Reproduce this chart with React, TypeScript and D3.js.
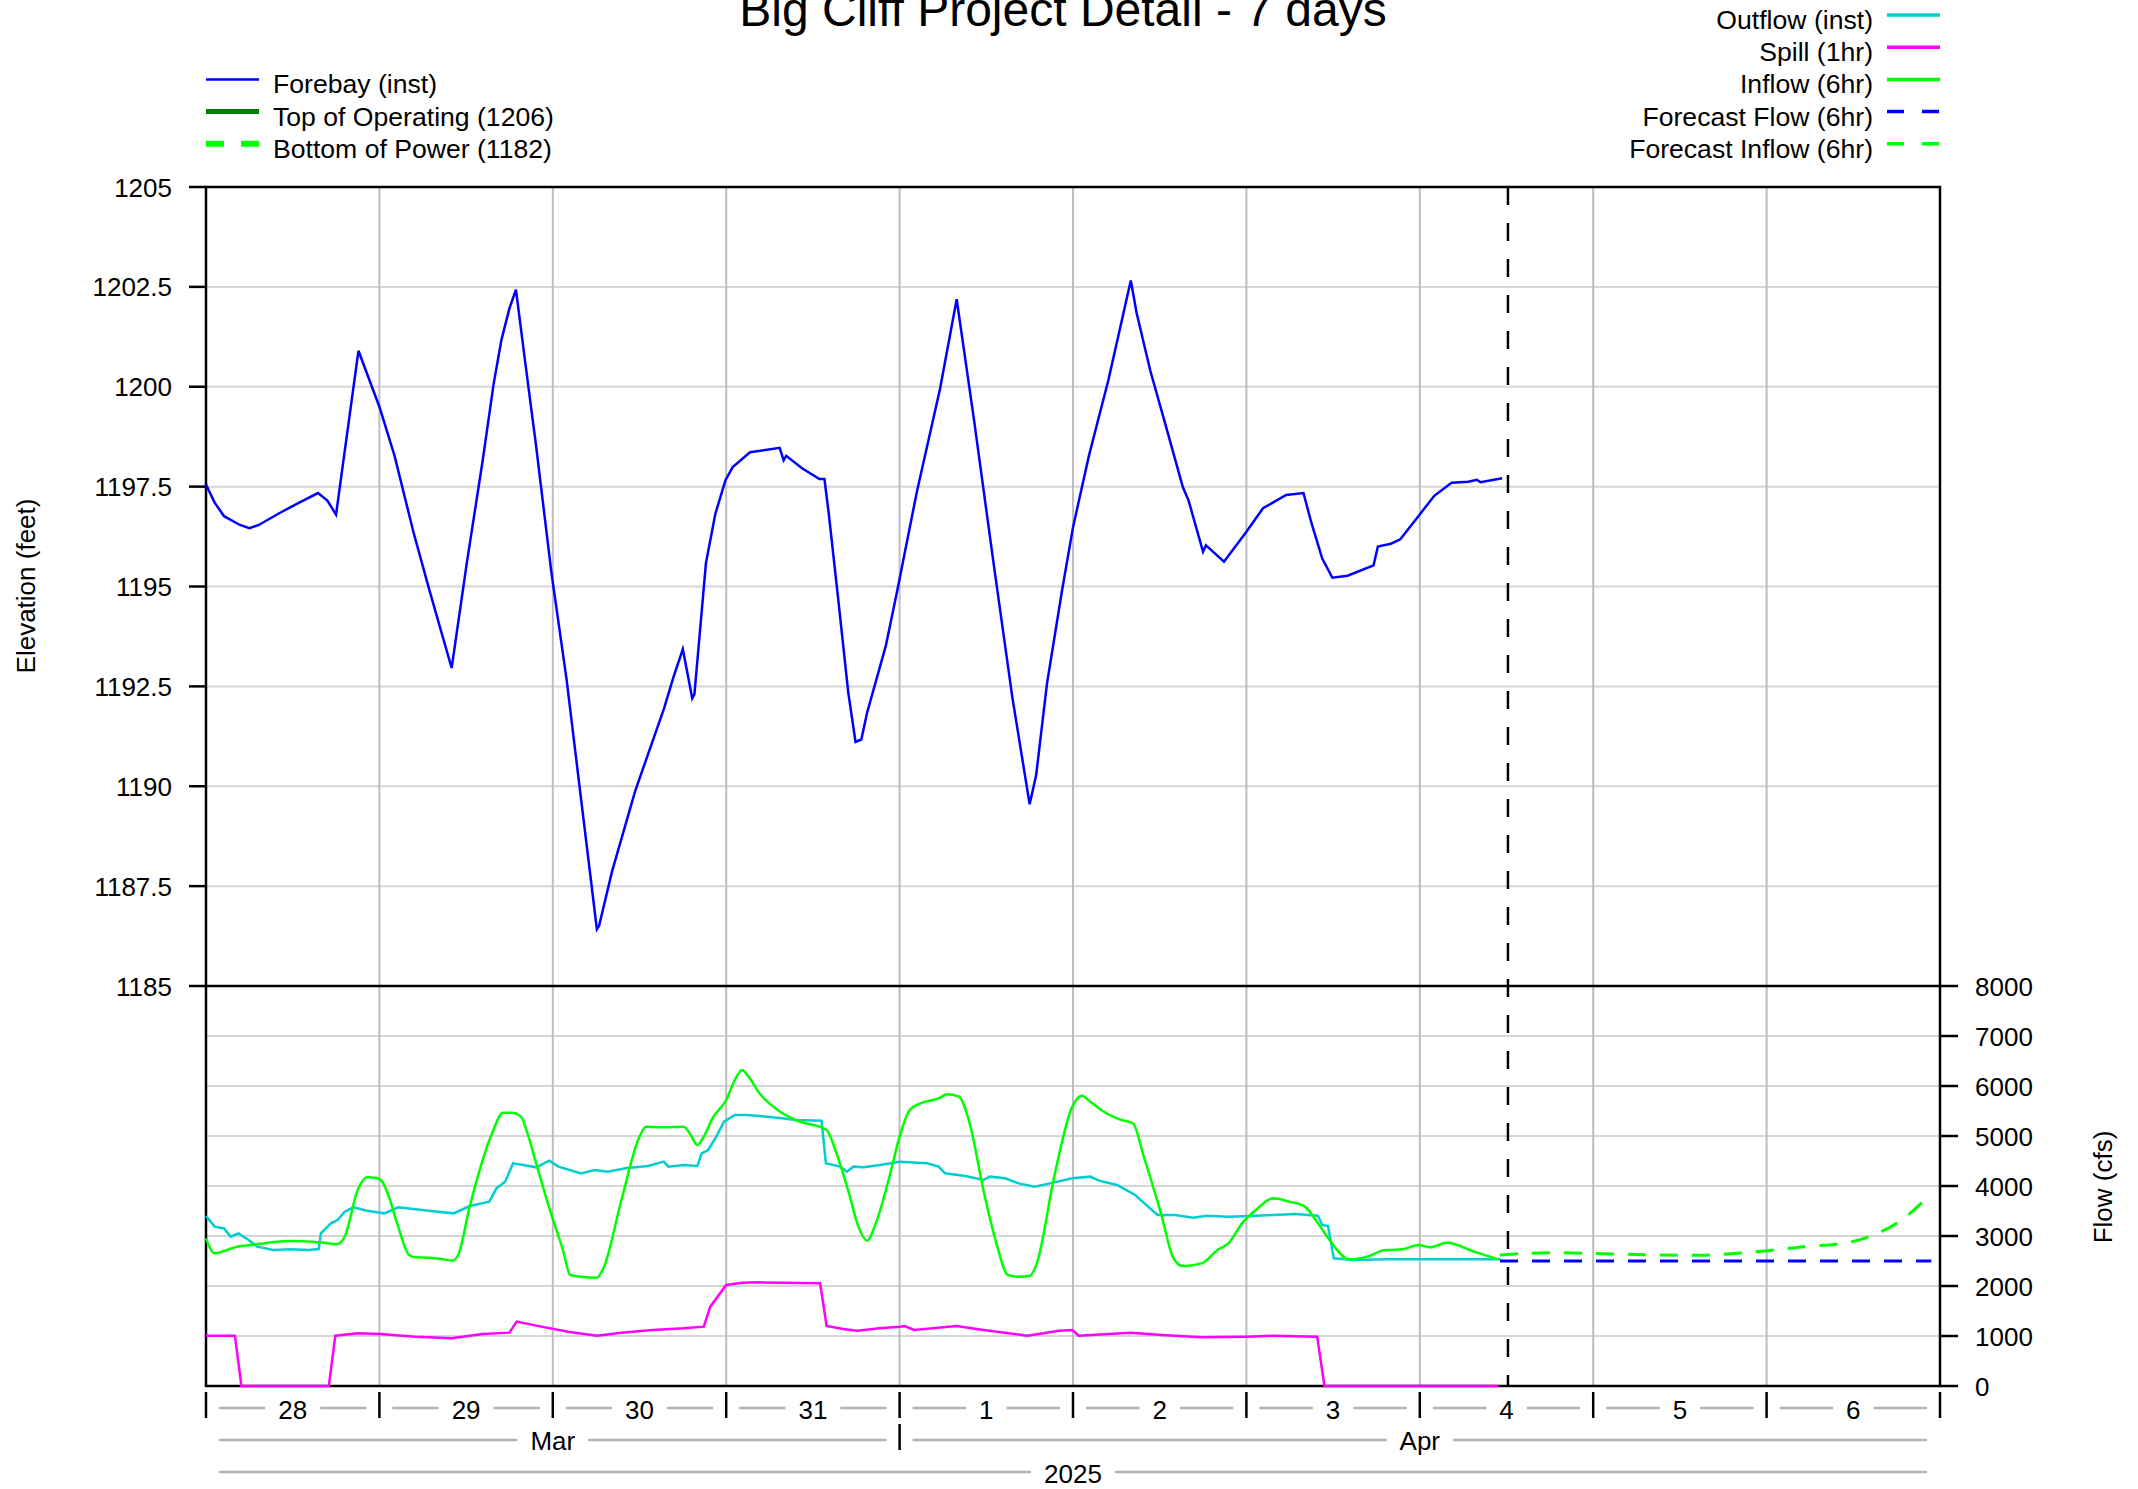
import React from 'react';
import * as d3 from 'd3';

// ---------- DATA (hours since 2025-03-28 00:00) ----------
const forebayHours = [0, 1.2, 2.5, 4.7, 6, 7.3, 10.2, 12.9, 15.5, 16.8, 18, 21.1, 24, 26.1, 28.7, 30.9, 34.0, 36.1, 38.3, 39.8, 40.9, 42, 42.9, 44.1, 45.7, 47.8, 49.9, 52, 54.1, 54.4, 56.2, 59.4, 63.4, 64.7, 66, 67.3, 67.6, 69.2, 70.5, 71.9, 72.9, 75.3, 79.4, 79.95, 80.3, 82.5, 84.9, 85.6, 86.2, 87.5, 88.9, 89.9, 90.7, 91.5, 94.1, 95.7, 98.4, 101.6, 103.9, 106.3, 109, 111.6, 114, 114.9, 116.4, 118.5, 120, 122.2, 124.9, 128, 128.8, 130.7, 132.8, 135.2, 136, 138, 138.4, 140.9, 144, 146.3, 149.5, 151.9, 153, 154.5, 155.9, 158, 161.6, 162.2, 164, 165.3, 167.8, 170, 172.4, 174.7, 175.9, 176.4, 179.4];
const forebayElev = [1197.55, 1197.1, 1196.76, 1196.54, 1196.46, 1196.54, 1196.84, 1197.1, 1197.34, 1197.15, 1196.8, 1200.9, 1199.5, 1198.27, 1196.37, 1194.92, 1192.96, 1195.59, 1198.16, 1200.06, 1201.18, 1201.96, 1202.43, 1200.73, 1198.5, 1195.36, 1192.68, 1189.55, 1186.42, 1186.5, 1187.87, 1189.88, 1191.95, 1192.73, 1193.43, 1192.2, 1192.3, 1195.59, 1196.82, 1197.66, 1197.99, 1198.36, 1198.47, 1198.16, 1198.27, 1197.96, 1197.69, 1197.69, 1196.82, 1194.69, 1192.34, 1191.11, 1191.17, 1191.84, 1193.52, 1194.92, 1197.38, 1199.95, 1202.19, 1199.17, 1195.59, 1192.23, 1189.55, 1190.28, 1192.57, 1194.92, 1196.48, 1198.27, 1200.17, 1202.66, 1201.85, 1200.4, 1199.05, 1197.49, 1197.15, 1195.87, 1196.03, 1195.62, 1196.37, 1196.96, 1197.29, 1197.34, 1196.59, 1195.7, 1195.22, 1195.27, 1195.53, 1196.0, 1196.07, 1196.18, 1196.76, 1197.27, 1197.6, 1197.62, 1197.67, 1197.61, 1197.71];

const inflowHours = [0, 1.2, 2.5, 4.3, 6.2, 8.7, 11.7, 14.8, 18.2, 19.2, 21, 22.3, 23.5, 24.4, 25.3, 26.6, 28.1, 29, 30.9, 32.8, 34.1, 34.9, 36.5, 39.6, 41.1, 42.3, 43.6, 44.5, 45.7, 47.6, 49.4, 50.4, 51.9, 54.1, 55, 57.5, 60, 60.9, 63, 66.1, 67.1, 68, 68.9, 70.1, 72, 73.2, 74.2, 75.1, 76.6, 79.1, 81.6, 85.9, 87.1, 89, 90.3, 91.5, 92.7, 94.6, 96, 97.4, 98.9, 101.4, 102.6, 104.2, 105.7, 107.6, 109.4, 111, 112.5, 114, 115, 117.4, 119.9, 121.2, 122.4, 123.9, 126.7, 128.3, 129.8, 132.3, 133.8, 135.1, 137.8, 140, 141.5, 143.4, 145.3, 147.7, 149.9, 152.1, 153.6, 155.5, 158.2, 160.7, 163.2, 165.6, 167.8, 169.4, 171.8, 175.5, 178.9];
const inflowCfs = [2953, 2653, 2700, 2787, 2820, 2867, 2900, 2887, 2840, 2987, 3920, 4173, 4167, 4087, 3787, 3187, 2620, 2573, 2567, 2533, 2507, 2620, 3587, 5053, 5467, 5467, 5387, 5053, 4453, 3520, 2720, 2220, 2187, 2167, 2353, 3720, 4987, 5187, 5173, 5187, 5020, 4820, 4987, 5353, 5720, 6120, 6320, 6187, 5853, 5520, 5320, 5120, 4720, 3853, 3187, 2907, 3253, 4187, 4987, 5520, 5653, 5753, 5833, 5787, 5253, 3920, 2853, 2220, 2187, 2200, 2453, 4187, 5587, 5807, 5687, 5520, 5320, 5253, 4587, 3387, 2587, 2400, 2453, 2720, 2853, 3253, 3520, 3753, 3687, 3587, 3320, 2920, 2533, 2587, 2720, 2733, 2820, 2773, 2867, 2687, 2533];

const outflowHours = [0, 1.2, 2.5, 3.4, 4.5, 5.9, 7.1, 9.3, 11.7, 14.2, 15.6, 15.9, 17.3, 18.2, 19.2, 20.4, 22.3, 24.7, 26.6, 29, 32.1, 34.3, 36.5, 39.2, 40.2, 41.4, 42.5, 43.9, 45.7, 47.5, 48.8, 51.9, 53.8, 55.6, 58.1, 61.2, 63.35, 64, 66.1, 68, 68.6, 69.5, 70.5, 71.7, 73.2, 74.8, 76.6, 79.7, 81.6, 85.2, 85.8, 87.8, 88.7, 89.6, 91, 93.3, 96, 99.8, 101.4, 102.3, 105.1, 107.6, 108.5, 110.6, 112.5, 114.7, 116.8, 119.9, 122.4, 123.6, 126.1, 128.6, 130.4, 131.7, 134.1, 136.6, 138.5, 141.5, 144.6, 147.7, 150.8, 153.9, 154.5, 155.3, 156.1, 158.9, 163.2, 168.1, 172.5, 179.2];
const outflowCfs = [3400, 3187, 3150, 2987, 3050, 2920, 2787, 2720, 2733, 2720, 2740, 3053, 3253, 3320, 3487, 3573, 3507, 3453, 3573, 3533, 3487, 3453, 3600, 3687, 3953, 4087, 4453, 4420, 4373, 4507, 4387, 4253, 4320, 4287, 4353, 4400, 4487, 4387, 4420, 4400, 4653, 4720, 4953, 5287, 5420, 5420, 5400, 5353, 5320, 5307, 4453, 4387, 4287, 4387, 4373, 4420, 4487, 4453, 4387, 4253, 4200, 4120, 4187, 4153, 4053, 3987, 4053, 4153, 4187, 4107, 4020, 3820, 3587, 3420, 3420, 3367, 3407, 3387, 3400, 3420, 3440, 3407, 3220, 3200, 2553, 2520, 2533, 2533, 2533, 2533];

const spillHours = [0, 4, 4.9, 17, 17.9, 21, 24.1, 29, 34, 38.3, 42, 43, 45.7, 50.1, 54.1, 57.5, 61.8, 66.1, 68.9, 69.8, 72, 74.2, 76.6, 85, 85.9, 88.4, 90.2, 93.2, 96, 96.7, 98, 103.9, 107.6, 113.7, 118.1, 119.9, 120.8, 128, 132.3, 137.8, 144, 147.7, 153.8, 154.8, 178.9];
const spillCfs = [1007, 1007, 0, 0, 1007, 1053, 1040, 987, 953, 1040, 1067, 1287, 1207, 1087, 1007, 1067, 1120, 1153, 1187, 1587, 2020, 2067, 2073, 2053, 1200, 1133, 1107, 1153, 1187, 1200, 1120, 1200, 1120, 1007, 1107, 1120, 1007, 1067, 1020, 973, 987, 1007, 987, 0, 0];

const fcInflowHours = [179.1, 186.5, 194.6, 206.9, 210.6, 216.2, 221.2, 226.7, 230.4, 234.7, 238.8];
const fcInflowCfs = [2620, 2667, 2640, 2613, 2640, 2707, 2787, 2853, 3000, 3320, 3853];

const fcFlowHours = [179.1, 238.8];
const fcFlowCfs = [2500, 2500];

const nowHour = 180.2;

const elevTicks = [1185, 1187.5, 1190, 1192.5, 1195, 1197.5, 1200, 1202.5, 1205];
const flowTicks = [0, 1000, 2000, 3000, 4000, 5000, 6000, 7000, 8000];
const dayLabels = ['28', '29', '30', '31', '1', '2', '3', '4', '5', '6'];
const monthNames = ['Mar', 'Apr'];
const monthStartHours = [0, 96];
const monthEndHours = [96, 240];
const yearLabel = '2025';

const leftLegend = ['Forebay (inst)', 'Top of Operating (1206)', 'Bottom of Power (1182)'];
const rightLegend = ['Outflow (inst)', 'Spill (1hr)', 'Inflow (6hr)', 'Forecast Flow (6hr)', 'Forecast Inflow (6hr)'];

const FONT = "'Liberation Sans', Arial, Helvetica, sans-serif";

const CW: Record<string, number> = { M: 0.833, a: 0.556, r: 0.333, A: 0.667, p: 0.556 };
function textW(s: string, size: number) {
  let w = 0;
  for (const c of s) w += CW[c] ?? 0.556;
  return w * size;
}

function pts(h: number[], v: number[]): [number, number][] {
  return h.map((t, i) => [t, v[i]]);
}

export default function App() {
  const W = 2138, H = 1489;
  const left = 206, right = 1940, top = 187, mid = 986, bottom = 1386;
  const x = d3.scaleLinear().domain([0, 240]).range([left, right]);
  const yE = d3.scaleLinear().domain([1185, 1205]).range([mid, top]);
  const yF = d3.scaleLinear().domain([0, 8000]).range([bottom, mid]);

  const lineE = d3.line<[number, number]>().x(d => x(d[0])).y(d => yE(d[1]));
  const lineF = d3.line<[number, number]>().x(d => x(d[0])).y(d => yF(d[1]));
  const lineFS = d3.line<[number, number]>().x(d => x(d[0])).y(d => yF(d[1])).curve(d3.curveMonotoneX);

  const dayHours = d3.range(0, 241, 24);
  const fs = 26;
  const lfs = 26.6;
  const flankGap = 13;

  const flank = (x0: number, x1: number, label: string, y: number, key: string) => {
    const cx = (x0 + x1) / 2;
    const w = textW(label, fs);
    return (
      <g key={key}>
        <line x1={x0 + flankGap} x2={cx - w / 2 - flankGap} y1={y} y2={y} stroke="#b3b3b3" strokeWidth={2.5} />
        <line x1={cx + w / 2 + flankGap} x2={x1 - flankGap} y1={y} y2={y} stroke="#b3b3b3" strokeWidth={2.5} />
      </g>
    );
  };

  const rowY = (i: number) => 15 + 32.2 * i;

  return (
    <div style={{ position: 'absolute', left: 0, top: 0 }}>
      <svg width={W} height={H} viewBox={`0 0 ${W} ${H}`} style={{ display: 'block', background: '#fff' }} fontFamily={FONT}>
        <rect x={0} y={0} width={W} height={H} fill="#fff" />
        {/* title */}
        <text x={1063} y={26} fontSize={48} textAnchor="middle" fill="#000">Big Cliff Project Detail - 7 days</text>

        {/* left legend */}
        {leftLegend.map((s, i) => {
          const y = rowY(i + 2);
          let ln;
          if (i === 0) ln = <line x1={206} x2={259} y1={y} y2={y} stroke="#0000ff" strokeWidth={2.5} />;
          else if (i === 1) ln = <line x1={206} x2={259} y1={y} y2={y} stroke="#008000" strokeWidth={5} />;
          else ln = <line x1={206} x2={259} y1={y} y2={y} stroke="#00ff00" strokeWidth={6} strokeDasharray="18 17" />;
          return (
            <g key={s}>
              {ln}
              <text x={273} y={y + 14} fontSize={lfs} fill="#000">{s}</text>
            </g>
          );
        })}
        {/* right legend */}
        {rightLegend.map((s, i) => {
          const y = rowY(i);
          const colors = ['#00CED1', '#ff00ff', '#00ff00', '#0000ff', '#00ff00'];
          const dash = i >= 3 ? '17 18' : undefined;
          return (
            <g key={s}>
              <line x1={1887} x2={1940} y1={y} y2={y} stroke={colors[i]} strokeWidth={3.5} strokeDasharray={dash} />
              <text x={1873} y={y + 14} fontSize={lfs} textAnchor="end" fill="#000">{s}</text>
            </g>
          );
        })}

        {/* horizontal grid */}
        {elevTicks.slice(1, -1).map(v => (
          <line key={'ge' + v} x1={left} x2={right} y1={yE(v)} y2={yE(v)} stroke="#d6d6d6" strokeWidth={2} />
        ))}
        {flowTicks.slice(1, -1).map(v => (
          <line key={'gf' + v} x1={left} x2={right} y1={yF(v)} y2={yF(v)} stroke="#d6d6d6" strokeWidth={2} />
        ))}
        {/* vertical grid */}
        {dayHours.slice(1, -1).map(h => (
          <line key={'gv' + h} x1={x(h)} x2={x(h)} y1={top} y2={bottom} stroke="#bdbdbd" strokeWidth={2} />
        ))}

        {/* frame */}
        <rect x={left} y={top} width={right - left} height={bottom - top} fill="none" stroke="#000" strokeWidth={2.5} />
        <line x1={left} x2={right} y1={mid} y2={mid} stroke="#000" strokeWidth={2.5} />

        {/* data */}
        <path d={lineF(pts(spillHours, spillCfs)) || ''} fill="none" stroke="#ff00ff" strokeWidth={2.5} />
        <path d={lineF(pts(outflowHours, outflowCfs)) || ''} fill="none" stroke="#00CED1" strokeWidth={2.5} />
        <path d={lineFS(pts(inflowHours, inflowCfs)) || ''} fill="none" stroke="#00ff00" strokeWidth={2.5} />
        <path d={lineF(pts(fcFlowHours, fcFlowCfs)) || ''} fill="none" stroke="#0000ff" strokeWidth={3} strokeDasharray="18 14" />
        <path d={lineFS(pts(fcInflowHours, fcInflowCfs)) || ''} fill="none" stroke="#00ff00" strokeWidth={3} strokeDasharray="18 14" />
        <path d={lineE(pts(forebayHours, forebayElev)) || ''} fill="none" stroke="#0000ff" strokeWidth={2.5} />

        {/* now line */}
        <line x1={x(nowHour)} x2={x(nowHour)} y1={top} y2={bottom} stroke="#000" strokeWidth={2.5} strokeDasharray="18 18" />

        {/* left axis */}
        {elevTicks.map(v => (
          <g key={'te' + v}>
            <line x1={189} x2={left} y1={yE(v)} y2={yE(v)} stroke="#000" strokeWidth={2.5} />
            <text x={172} y={yE(v) + 9.5} fontSize={fs} textAnchor="end" fill="#000">{String(v)}</text>
          </g>
        ))}
        <text transform={`translate(35,586) rotate(-90)`} fontSize={fs} textAnchor="middle" fill="#000">Elevation (feet)</text>

        {/* right axis */}
        {flowTicks.map(v => (
          <g key={'tf' + v}>
            <line x1={right} x2={1958} y1={yF(v)} y2={yF(v)} stroke="#000" strokeWidth={2.5} />
            <text x={1975} y={yF(v) + 9.5} fontSize={fs} textAnchor="start" fill="#000">{String(v)}</text>
          </g>
        ))}
        <text transform={`translate(2112,1187) rotate(-90)`} fontSize={fs} textAnchor="middle" fill="#000">Flow (cfs)</text>

        {/* bottom date axis */}
        {dayHours.map(h => (
          <line key={'dt' + h} x1={x(h)} x2={x(h)} y1={1392} y2={1418} stroke="#000" strokeWidth={2.5} />
        ))}
        {dayLabels.map((d, i) => {
          const x0 = x(dayHours[i]), x1 = x(dayHours[i + 1]);
          return (
            <g key={'dl' + i}>
              {flank(x0, x1, d, 1408, 'df' + i)}
              <text x={(x0 + x1) / 2} y={1419} fontSize={fs} textAnchor="middle" fill="#000">{d}</text>
            </g>
          );
        })}
        {monthNames.map((m, i) => {
          const x0 = x(monthStartHours[i]), x1 = x(monthEndHours[i]);
          return (
            <g key={'m' + m}>
              {flank(x0, x1, m, 1440, 'mf' + i)}
              <text x={(x0 + x1) / 2} y={1450} fontSize={fs} textAnchor="middle" fill="#000">{m}</text>
            </g>
          );
        })}
        {monthStartHours.slice(1).map(h => (
          <line key={'ms' + h} x1={x(h)} x2={x(h)} y1={1424} y2={1450} stroke="#000" strokeWidth={2.5} />
        ))}
        {flank(x(0), x(240), yearLabel, 1472, 'yf')}
        <text x={x(120)} y={1483} fontSize={fs} textAnchor="middle" fill="#000">{yearLabel}</text>
      </svg>
    </div>
  );
}
